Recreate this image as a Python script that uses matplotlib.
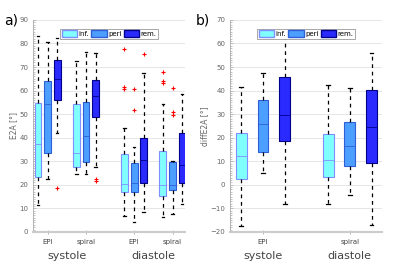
import matplotlib
matplotlib.use("Agg")
import matplotlib.pyplot as plt
from matplotlib.patches import Patch
from matplotlib.ticker import MultipleLocator

regions = ["inf.", "peri", "rem."]
phases = ["systole", "diastole"]
methods = ["EPI", "spiral"]

# a) E2A, order: sys EPI (inf, peri, rem), sys spiral, dia EPI, dia spiral
e2a_whislo = [11.5, 22.4, 42.1, 24.5, 24.6, 27.5, 6.9, 4.0, 8.3, 6.5, 7.5, 11.7]
e2a_q1 = [23.2, 33.7, 56.0, 27.5, 29.8, 48.7, 17.1, 17.1, 20.7, 15.3, 17.8, 20.7]
e2a_med = [37.2, 54.2, 64.8, 33.4, 40.9, 57.7, 20.2, 20.7, 30.6, 19.9, 20.0, 28.4]
e2a_q3 = [54.6, 64.2, 72.9, 54.3, 55.3, 64.5, 33.2, 29.4, 40.0, 34.4, 29.5, 41.9]
e2a_whishi = [83.2, 80.8, 82.2, 72.7, 76.3, 76.1, 44.3, 36.2, 67.4, 54.3, 30.3, 58.4]
e2a_fliers = [[], [], [18.8], [], [], [22.6, 21.5],
              [77.5, 61.4, 60.6], [60.6, 51.8], [75.7],
              [68.0, 64.1, 63.1], [61.0, 50.8, 49.7], []]

# b) diffE2A, order: systole (inf, peri, rem), diastole
d_whislo = [-17.3, 4.8, -8.2, -8.0, -4.5, -16.9]
d_q1 = [2.4, 13.8, 18.6, 3.2, 8.0, 9.2]
d_med = [12.2, 25.6, 29.6, 10.6, 16.5, 24.4]
d_q3 = [22.1, 35.9, 45.9, 21.7, 26.5, 40.4]
d_whishi = [41.5, 47.6, 62.2, 42.2, 41.3, 56.1]

face = ["#80ffff", "#4d9fff", "#2a2aff"]
edge = ["#7f8fff", "#2f5fd8", "#00008b"]
grey = "#666666"


def stats(lo, q1, med, q3, hi, fl=None):
    out = []
    for i in range(len(med)):
        out.append(dict(whislo=lo[i], q1=q1[i], med=med[i], q3=q3[i], whishi=hi[i],
                        fliers=fl[i] if fl else []))
    return out


def draw(ax, st, centers, width):
    pos = [c + o for c in centers for o in (-1, 0, 1)]
    for i, s in enumerate(st):
        k = i % 3
        ax.bxp([s], positions=[pos[i]], widths=width, patch_artist=True,
               boxprops=dict(facecolor=face[k], edgecolor=edge[k], linewidth=0.8),
               medianprops=dict(color=edge[k], linewidth=0.6),
               whiskerprops=dict(color="black", linestyle=(0, (3, 3)), linewidth=0.9),
               capprops=dict(color="black", linewidth=0.9),
               capwidths=width * 0.35,
               flierprops=dict(marker="+", markeredgecolor="red", markersize=2.5,
                               markeredgewidth=0.8),
               manage_ticks=False)


def style(ax, ylim, ylabel):
    ax.set_ylim(*ylim)
    ax.yaxis.set_major_locator(MultipleLocator(10))
    ax.yaxis.set_minor_locator(MultipleLocator(1))
    ax.grid(axis="y", color="#e6e6e6", linewidth=0.7)
    ax.set_axisbelow(True)
    for s in ["top", "right"]:
        ax.spines[s].set_visible(False)
    ax.spines["left"].set_color("#aaaaaa")
    ax.spines["left"].set_linewidth(0.6)
    ax.spines["bottom"].set_color("#cccccc")
    ax.spines["bottom"].set_linewidth(1.5)
    ax.tick_params(axis="y", which="both", direction="in", colors="#aaaaaa",
                   labelcolor=grey, labelsize=5, length=2, width=0.5)
    ax.tick_params(axis="y", which="minor", length=1.2)
    ax.tick_params(axis="x", direction="inout", colors="#aaaaaa", labelcolor="#444444",
                   labelsize=5, length=3, width=0.6)
    ax.set_ylabel(ylabel, fontsize=5.5, color=grey, labelpad=1)
    handles = [Patch(facecolor=face[k], edgecolor=edge[k], label=regions[k]) for k in range(3)]
    leg = ax.legend(handles=handles, loc="upper center", bbox_to_anchor=(0.5, 0.975),
                    ncol=3, fontsize=5, handlelength=2.2, handleheight=1.0,
                    columnspacing=0.3, handletextpad=0.2, borderpad=0.25,
                    fancybox=False, framealpha=1)
    leg.get_frame().set_edgecolor("#999999")
    leg.get_frame().set_linewidth(0.6)


fig = plt.figure(figsize=(4, 2.69), dpi=100)
ax1 = fig.add_axes([0.0825, 0.138, 0.38, 0.788])
ax2 = fig.add_axes([0.575, 0.138, 0.38, 0.788])

c1 = [2, 6, 11, 15]
draw(ax1, stats(e2a_whislo, e2a_q1, e2a_med, e2a_q3, e2a_whishi, e2a_fliers), c1, 0.72)
ax1.set_xlim(0.48, 16.3)
ax1.set_xticks(c1)
ax1.set_xticklabels(methods * 2)
style(ax1, (0, 90), "E2A [°]")
for x, p in zip([4, 13], phases):
    ax1.text(x, -0.09, p, transform=ax1.get_xaxis_transform(), ha="center", va="top",
             fontsize=8, color="#444444")

c2 = [2, 6]
draw(ax2, stats(d_whislo, d_q1, d_med, d_q3, d_whishi), c2, 0.5)
ax2.set_xlim(0.48, 7.48)
ax2.set_xticks(c2)
ax2.set_xticklabels(methods)
style(ax2, (-20, 70), "diffE2A [°]")
for x, p in zip(c2, phases):
    ax2.text(x, -0.09, p, transform=ax2.get_xaxis_transform(), ha="center", va="top",
             fontsize=8, color="#444444")

fig.text(0.01, 0.925, "a)", fontsize=10, va="center")
fig.text(0.49, 0.925, "b)", fontsize=10, va="center")

fig.savefig("out.png", dpi=100)
